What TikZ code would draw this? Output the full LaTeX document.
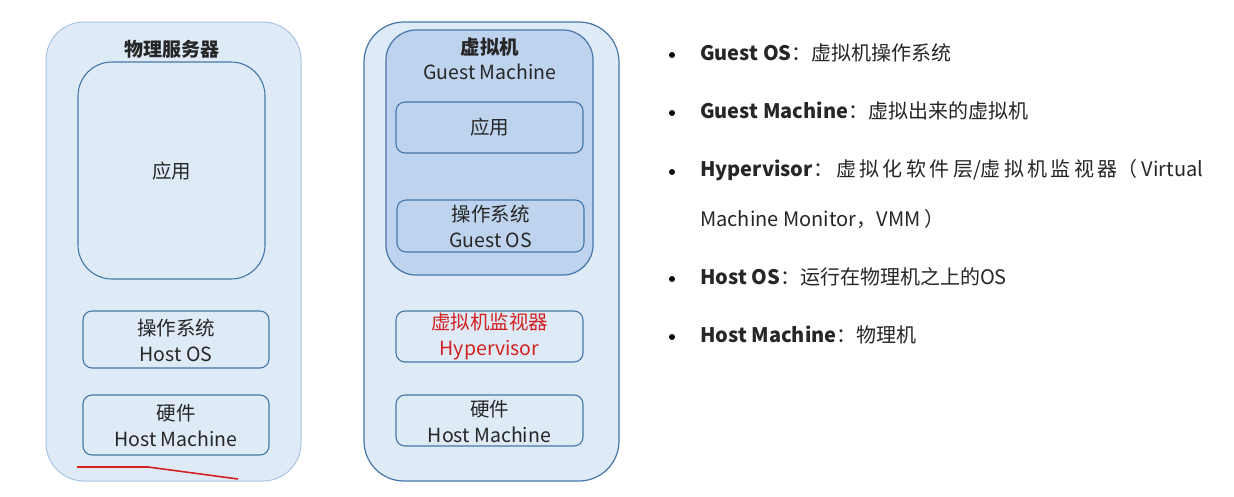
\documentclass[tikz,border=0pt]{standalone}
\usepackage{fontspec}
\setmainfont{Noto Sans CJK SC}
\begin{document}
\begin{tikzpicture}[x=1pt,y=-1pt,
  every node/.style={inner sep=0pt,font=\fontsize{19.5}{22}\selectfont,text=black!85},
  outerR/.style={draw=boxline,fill=lightfill,line width=1.2pt,rounded corners=40pt},
  guestbox/.style={draw=boxline,fill=midfill,line width=1.2pt,rounded corners=30pt},
  bigbox/.style={draw=boxline,fill=lightfill,line width=1.1pt,rounded corners=34pt},
  layerbox/.style={draw=boxline,line width=1.1pt,rounded corners=9pt},
  twoline/.style={align=center,font=\fontsize{19.5}{26}\selectfont},
  bul/.style={anchor=west,font=\fontsize{20}{23}\selectfont},
  dot/.style={circle,fill=black,minimum size=6pt}
]
\definecolor{lightfill}{HTML}{DEEBF7}
\definecolor{midfill}{HTML}{BED4EE}
\definecolor{boxline}{HTML}{4675AA}
\definecolor{lightline}{HTML}{A9C5E2}
\definecolor{hred}{HTML}{D42020}
\useasboundingbox (0,0) rectangle (1234,496);
\fill[white] (0,0) rectangle (1234,496);

% left: physical server
\draw[draw=lightline,fill=lightfill,line width=1pt,rounded corners=38pt] (46,22) rectangle (301,481);
\node[font=\bfseries\fontsize{19}{23}\selectfont] (ltitle) at (172,49) {物理服务器};
\draw[bigbox] (78,62) rectangle (265,279);
\node (lapp) at (171.5,171) {应用};
\draw[layerbox] (83,311) rectangle (269,368);
\node[twoline] (los) at (176,340) {操作系统\\Host OS};
\draw[layerbox] (83,395) rectangle (269,455);
\node[twoline] (lhw) at (176,425) {硬件\\Host Machine};
\draw[hred,line width=1.6pt] (77,467) -- (148,467) -- (238,479);

% middle: virtualized
\draw[outerR] (364,22) rectangle (619,481);
\draw[guestbox] (386,30) rectangle (593,275);
\node[align=center,font=\fontsize{19.5}{25}\selectfont] (gm) at (490,59) {\textbf{虚拟机}\\Guest Machine};
\draw[layerbox,fill=midfill] (396,102) rectangle (583,153);
\node (gapp) at (489.5,127) {应用};
\draw[layerbox,fill=midfill] (397,200) rectangle (584,252);
\node[twoline] (gos) at (490.5,226) {操作系统\\Guest OS};
\draw[layerbox] (396,311) rectangle (583,362);
\node[twoline,text=hred] (hyp) at (489.5,337) {虚拟机监视器\\Hypervisor};
\draw[layerbox] (396,395) rectangle (583,446);
\node[twoline] (mhw) at (489.5,421) {硬件\\Host Machine};

% bullets
\node[dot] (d1) at (672,55) {};
\node[bul] (t1) at (700,53) {\textbf{Guest OS}：虚拟机操作系统};
\node[dot] (d2) at (672,113) {};
\node[bul] (t2) at (700,111) {\textbf{Guest Machine}：虚拟出来的虚拟机};
\node[dot] (d3) at (672,172) {};
\node[bul] (t3) at (700,170) {\textbf{Hypervisor}：\,虚\,拟\,化\,软\,件\,层/虚\,拟\,机\,监\,视\,器（\ Virtual};
\node[bul] (t3b) at (700,219) {Machine Monitor，VMM\ ）};
\node[dot] (d4) at (672,279) {};
\node[bul] (t4) at (700,277) {\textbf{Host OS}：运行在物理机之上的OS};
\node[dot] (d5) at (672,337) {};
\node[bul] (t5) at (700,335) {\textbf{Host Machine}：物理机};
\end{tikzpicture}
\end{document}
